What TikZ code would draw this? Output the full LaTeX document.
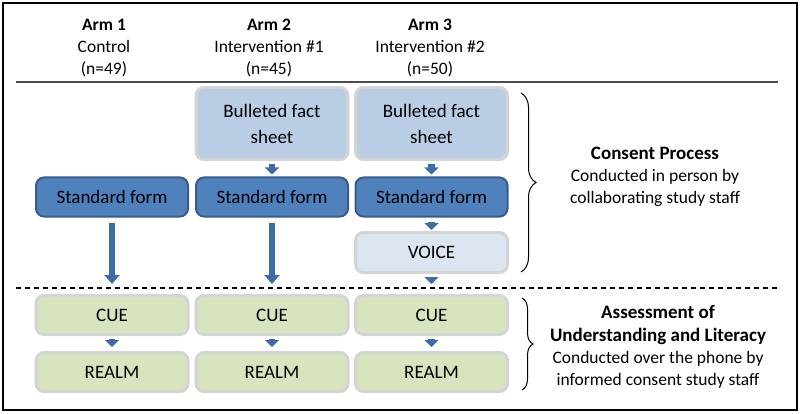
\documentclass[tikz,border=0pt]{standalone}
\usepackage{fontspec}
\setmainfont{Carlito}
\usetikzlibrary{arrows.meta,decorations.pathreplacing}
\definecolor{factfill}{HTML}{B9CDE5}
\definecolor{stdfill}{HTML}{4F81BD}
\definecolor{stdline}{HTML}{385D8A}
\definecolor{voicefill}{HTML}{DCE6F2}
\definecolor{cuefill}{HTML}{D7E4BD}
\definecolor{lightline}{HTML}{D4D4D4}
\definecolor{arrowcol}{HTML}{3E6CA6}
\newcommand{\bigbf}[1]{{\fontsize{19}{22}\selectfont\bfseries #1}}
\begin{document}
\begin{tikzpicture}[x=1pt,y=-1pt,
  box/.style={rounded corners=8pt,minimum width=152pt,inner sep=0pt,align=center,
    font=\fontsize{19}{26}\selectfont},
  factbox/.style={box,fill=factfill,draw=lightline,line width=3pt,minimum height=72pt},
  stdbox/.style={box,fill=stdfill,draw=stdline,line width=2pt,minimum height=39pt},
  voicebox/.style={box,fill=voicefill,draw=lightline,line width=3pt,minimum height=40pt},
  cuebox/.style={box,fill=cuefill,draw=lightline,line width=3pt,minimum height=39pt},
  head/.style={align=center,font=\fontsize{17.5}{22}\selectfont},
  side/.style={align=center,font=\fontsize{17.5}{22}\selectfont},
  flow/.style={draw=arrowcol,line width=6.5pt,-{Triangle[width=14pt,length=7pt]},arrowcol},
  longflow/.style={flow,-{Triangle[width=15pt,length=9pt]}},
  brc/.style={draw=black,line width=1pt,decorate}
]
\useasboundingbox (0,0) rectangle (800,414);
\draw[line width=1.5pt] (3,3) rectangle (797,410);

% headers
\node[head] (h1) at (104,48) {\textbf{Arm 1}\\Control\\(n=49)};
\node[head] (h2) at (269,48) {\textbf{Arm 2}\\Intervention \#1\\(n=45)};
\node[head] (h3) at (430,48) {\textbf{Arm 3}\\Intervention \#2\\(n=50)};
\coordinate (tl) at (16,82);
\coordinate (tr) at (778,82);
\draw[line width=2pt,black!70] (tl) -- (tr);

% consent boxes
\node[factbox] (f2) at (272,123.5) {Bulleted fact\\sheet};
\node[factbox] (f3) at (431.5,123.5) {Bulleted fact\\sheet};
\node[stdbox] (s1) at (112,197) {Standard form};
\node[stdbox] (s2) at (272,197) {Standard form};
\node[stdbox] (s3) at (431.5,197) {Standard form};
\node[voicebox] (v3) at (431.5,252.5) {VOICE};

% dashed separator
\coordinate (dl) at (16,288);
\coordinate (dr) at (778,288);
\draw[line width=1.2pt,dash pattern=on 5pt off 4pt] (dl) -- (dr);

% assessment boxes
\node[cuebox] (c1) at (112,315) {CUE};
\node[cuebox] (c2) at (272,315) {CUE};
\node[cuebox] (c3) at (431.5,315) {CUE};
\node[cuebox] (r1) at (112,372) {REALM};
\node[cuebox] (r2) at (272,372) {REALM};
\node[cuebox] (r3) at (431.5,372) {REALM};

% arrows
\draw[flow,shorten <=3pt,shorten >=2pt] (f2) -- (s2);
\draw[flow,shorten <=3pt,shorten >=2pt] (f3) -- (s3);
\draw[flow,shorten <=4pt,shorten >=1pt] (s3) -- (v3);
\draw[longflow,shorten <=5pt,shorten >=10pt] (s1) -- (c1);
\draw[longflow,shorten <=5pt,shorten >=10pt] (s2) -- (c2);
\draw[flow,shorten <=3pt,shorten >=10pt] (v3) -- (c3);
\draw[flow,shorten <=3pt,shorten >=4pt] (c1) -- (r1);
\draw[flow,shorten <=3pt,shorten >=4pt] (c2) -- (r2);
\draw[flow,shorten <=3pt,shorten >=4pt] (c3) -- (r3);

% braces
\coordinate (b1t) at (521,93);
\coordinate (b1b) at (521,272);
\draw[brc,decoration={brace,amplitude=15pt}] (b1t) -- (b1b);
\coordinate (b2t) at (522,298);
\coordinate (b2b) at (522,390);
\draw[brc,decoration={brace,amplitude=11pt}] (b2t) -- (b2b);

% side labels
\node[side] (t1) at (655,177) {\bigbf{Consent Process}\\Conducted in person by\\collaborating study staff};
\node[side] (t2) at (658,347) {\bigbf{Assessment of}\\[1pt]\bigbf{Understanding and Literacy}\\Conducted over the phone by\\informed consent study staff};
\end{tikzpicture}
\end{document}
